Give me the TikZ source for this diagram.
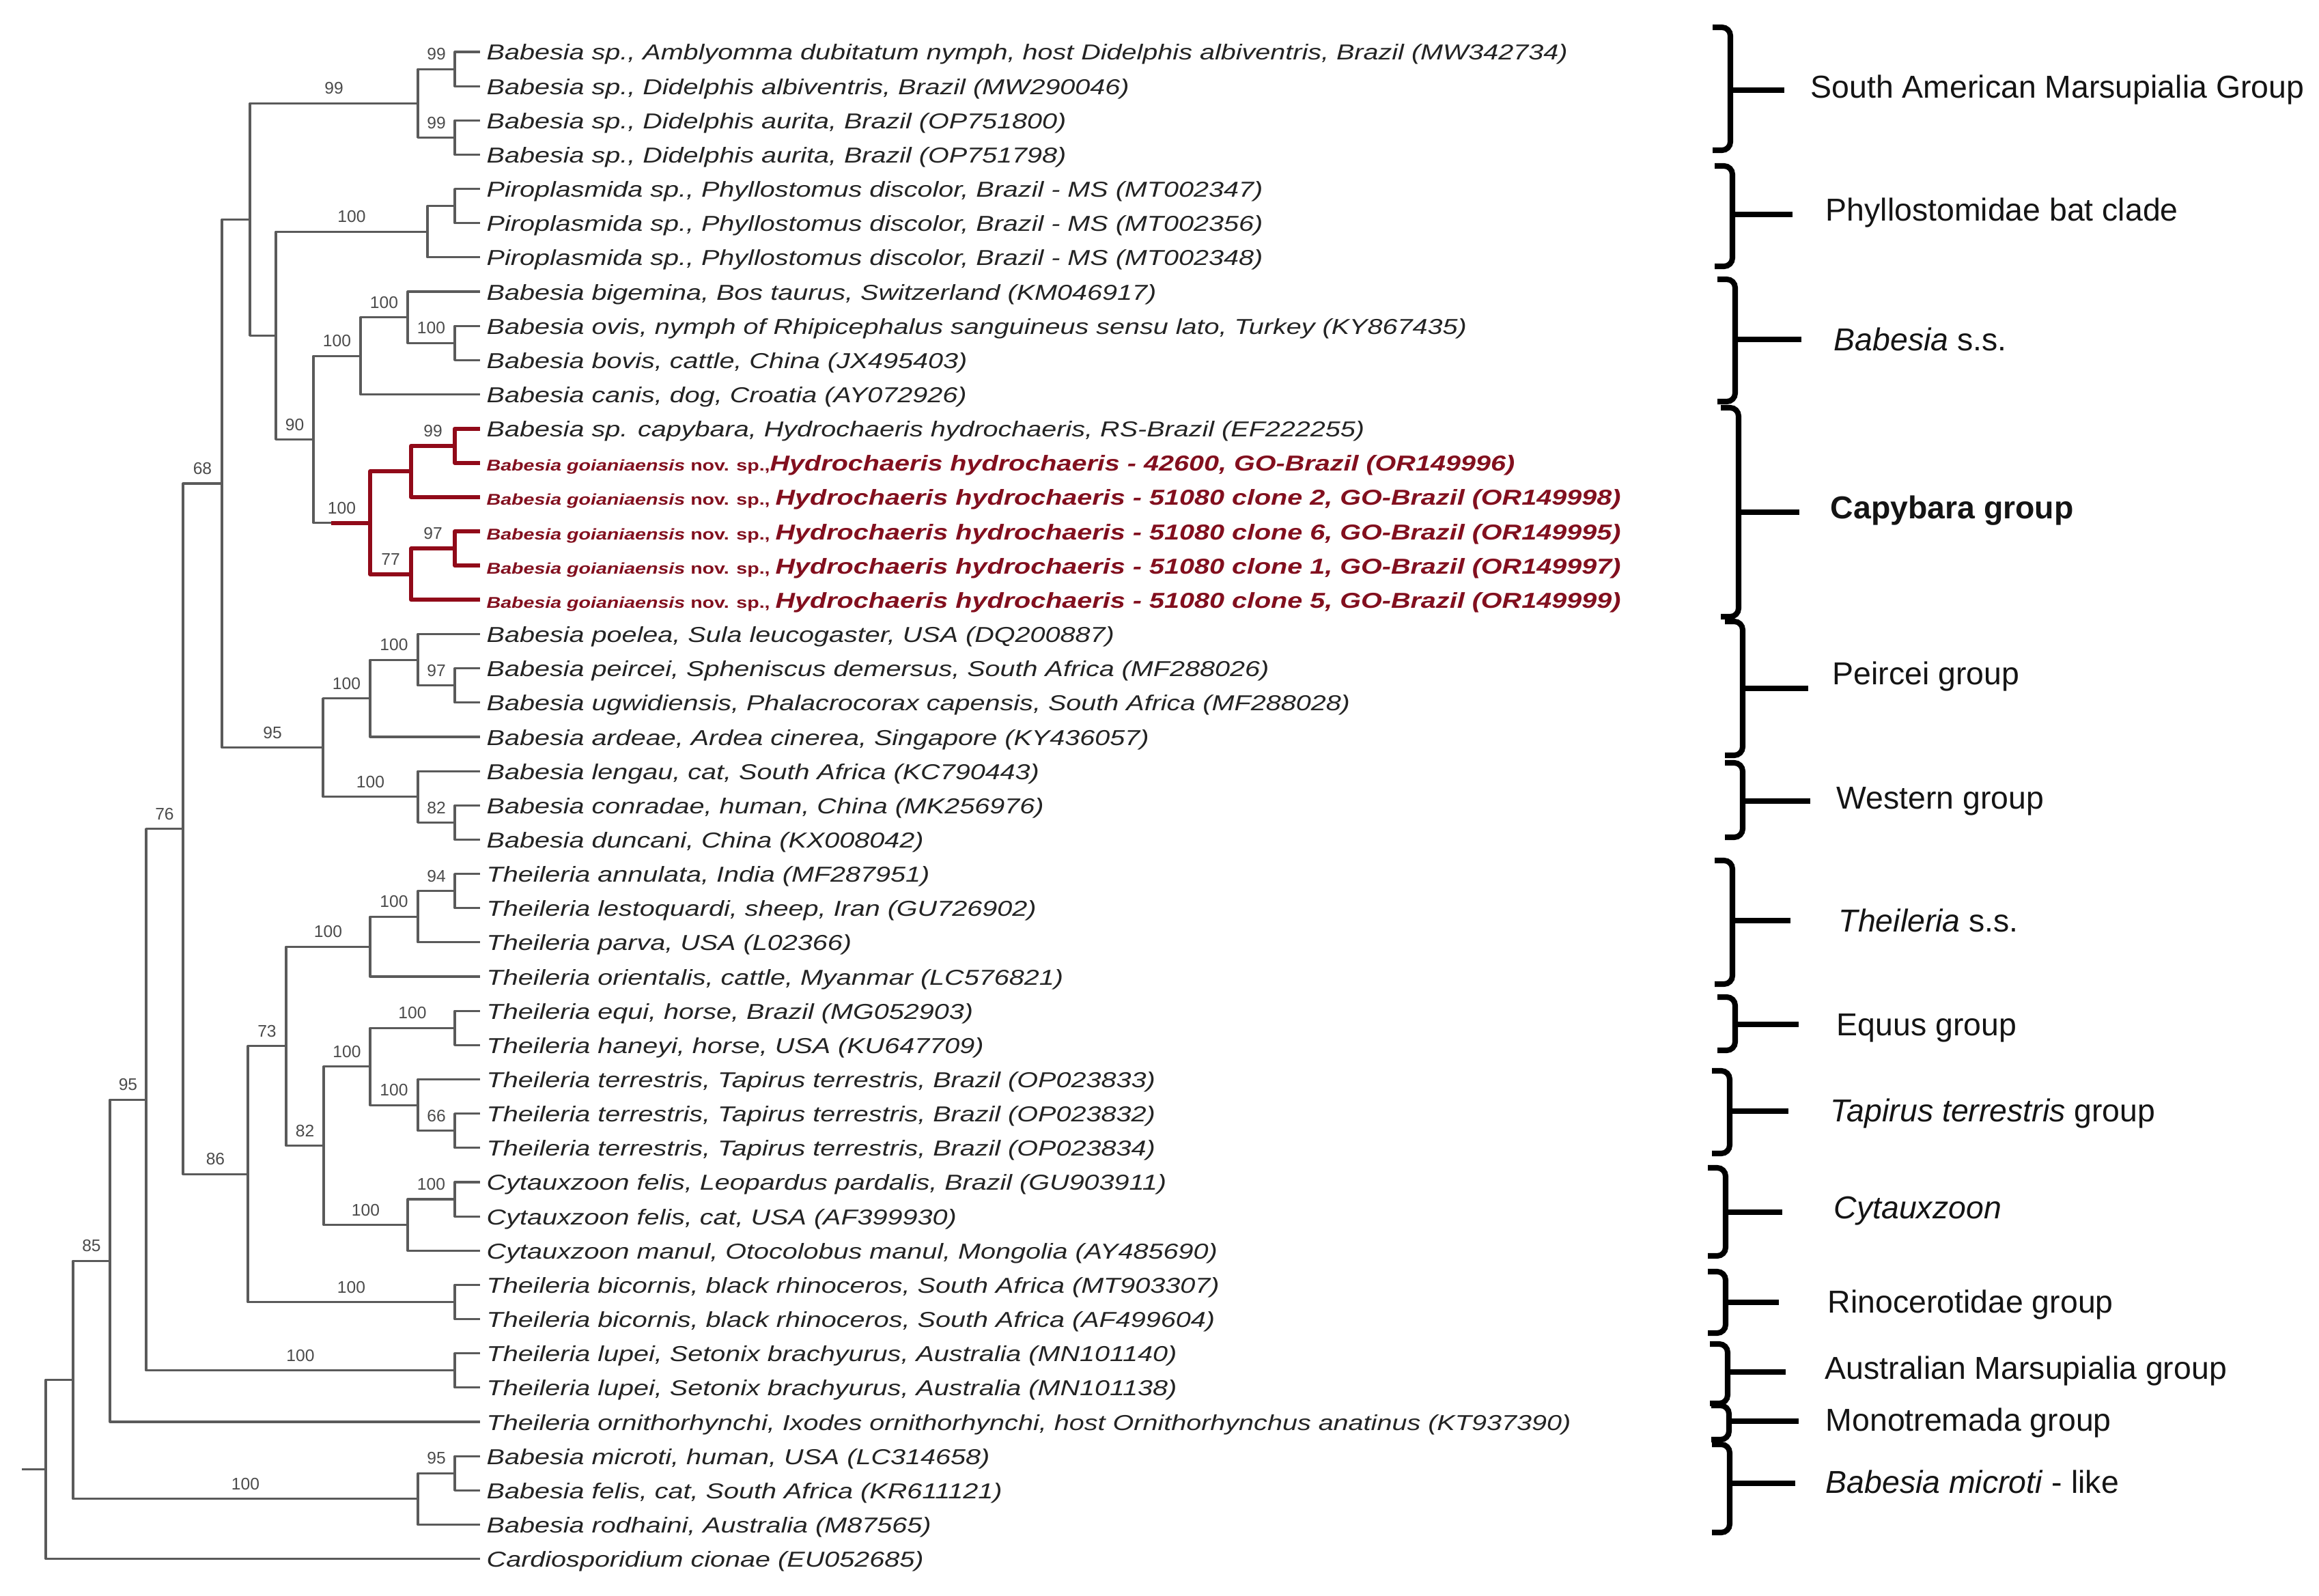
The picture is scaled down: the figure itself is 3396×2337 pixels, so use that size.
\documentclass[tikz,border=0pt]{standalone}
\usepackage{fontspec}
\setmainfont{Liberation Sans}
\usepackage{graphicx}
\usetikzlibrary{calc}
\definecolor{brgray}{RGB}{90,90,90}
\definecolor{txgray}{RGB}{35,35,35}
\definecolor{btgray}{RGB}{75,75,75}
\definecolor{capred}{RGB}{145,10,25}
\definecolor{capredtx}{RGB}{130,15,30}
\definecolor{grptx}{RGB}{20,20,20}
\newcommand{\leaftxt}[1]{\scalebox{1.25}[1]{\fontsize{9}{10}\selectfont\itshape #1}}
\newcommand{\goiatxt}[2]{\scalebox{1.25}[1]{\bfseries\fontsize{6.5}{7}\selectfont\itshape Babesia goianiaensis \upshape nov. sp.,#1\fontsize{9}{10}\selectfont\itshape #2}}
\newcommand{\grpb}[9]{%
  \draw[brk] ({#1-26},#2) -- (#1,#2) -- (#1,#3) -- ({#1-26},#3);
  \coordinate (#8m) at (#1,#4);
  \coordinate (#8e) at (#5,#4);
  \draw[brktick] (#8m) -- (#8e);
  \node[grp] (#8) at (#6,#7) {#9};}
\begin{document}
\begin{tikzpicture}[x=0.01cm,y=-0.01cm,
  branch/.style={draw=brgray, line width=0.9pt, line join=round},
  redbranch/.style={draw=capred, line width=1.7pt, line join=round},
  boot/.style={pos=0.75, anchor=base, yshift=3.8pt, inner sep=0pt, text=btgray, font=\fontsize{7}{8}\selectfont},
  leaf/.style={anchor=base west, inner sep=0pt, text=txgray},
  redleaf/.style={anchor=base west, inner sep=0pt, text=capredtx},
  brk/.style={draw=black, line width=2.3pt, rounded corners=3.5pt},
  brktick/.style={draw=black, line width=2.1pt},
  grp/.style={anchor=west, inner sep=0pt, text=grptx, font=\fontsize{13.2}{15}\selectfont}]
\useasboundingbox[fill=white] (0,0) rectangle (3396,2337);

% leaf tips
\foreach \i in {1,...,45} {\coordinate (t\i) at (703,{76+50.15*(\i-1)});}

% leaf labels
\node[leaf] (l1) at ($(t1)+(9,12)$) {\leaftxt{Babesia sp., Amblyomma dubitatum nymph, host Didelphis albiventris, Brazil (MW342734)}};
\node[leaf] (l2) at ($(t2)+(9,12)$) {\leaftxt{Babesia sp., Didelphis albiventris, Brazil (MW290046)}};
\node[leaf] (l3) at ($(t3)+(9,12)$) {\leaftxt{Babesia sp., Didelphis aurita, Brazil (OP751800)}};
\node[leaf] (l4) at ($(t4)+(9,12)$) {\leaftxt{Babesia sp., Didelphis aurita, Brazil (OP751798)}};
\node[leaf] (l5) at ($(t5)+(9,12)$) {\leaftxt{Piroplasmida sp., Phyllostomus discolor, Brazil - MS (MT002347)}};
\node[leaf] (l6) at ($(t6)+(9,12)$) {\leaftxt{Piroplasmida sp., Phyllostomus discolor, Brazil - MS (MT002356)}};
\node[leaf] (l7) at ($(t7)+(9,12)$) {\leaftxt{Piroplasmida sp., Phyllostomus discolor, Brazil - MS (MT002348)}};
\node[leaf] (l8) at ($(t8)+(9,12)$) {\leaftxt{Babesia bigemina, Bos taurus, Switzerland (KM046917)}};
\node[leaf] (l9) at ($(t9)+(9,12)$) {\leaftxt{Babesia ovis, nymph of Rhipicephalus sanguineus sensu lato, Turkey (KY867435)}};
\node[leaf] (l10) at ($(t10)+(9,12)$) {\leaftxt{Babesia bovis, cattle, China (JX495403)}};
\node[leaf] (l11) at ($(t11)+(9,12)$) {\leaftxt{Babesia canis, dog, Croatia (AY072926)}};
\node[leaf] (l12) at ($(t12)+(9,12)$) {\leaftxt{Babesia sp. capybara, Hydrochaeris hydrochaeris, RS-Brazil (EF222255)}};
\node[redleaf] (l13) at ($(t13)+(9,12)$) {\goiatxt{}{Hydrochaeris hydrochaeris - 42600, GO-Brazil (OR149996)}};
\node[redleaf] (l14) at ($(t14)+(9,12)$) {\goiatxt{\ }{Hydrochaeris hydrochaeris - 51080 clone 2, GO-Brazil (OR149998)}};
\node[redleaf] (l15) at ($(t15)+(9,12)$) {\goiatxt{\ }{Hydrochaeris hydrochaeris - 51080 clone 6, GO-Brazil (OR149995)}};
\node[redleaf] (l16) at ($(t16)+(9,12)$) {\goiatxt{\ }{Hydrochaeris hydrochaeris - 51080 clone 1, GO-Brazil (OR149997)}};
\node[redleaf] (l17) at ($(t17)+(9,12)$) {\goiatxt{\ }{Hydrochaeris hydrochaeris - 51080 clone 5, GO-Brazil (OR149999)}};
\node[leaf] (l18) at ($(t18)+(9,12)$) {\leaftxt{Babesia poelea, Sula leucogaster, USA (DQ200887)}};
\node[leaf] (l19) at ($(t19)+(9,12)$) {\leaftxt{Babesia peircei, Spheniscus demersus, South Africa (MF288026)}};
\node[leaf] (l20) at ($(t20)+(9,12)$) {\leaftxt{Babesia ugwidiensis, Phalacrocorax capensis, South Africa (MF288028)}};
\node[leaf] (l21) at ($(t21)+(9,12)$) {\leaftxt{Babesia ardeae, Ardea cinerea, Singapore (KY436057)}};
\node[leaf] (l22) at ($(t22)+(9,12)$) {\leaftxt{Babesia lengau, cat, South Africa (KC790443)}};
\node[leaf] (l23) at ($(t23)+(9,12)$) {\leaftxt{Babesia conradae, human, China (MK256976)}};
\node[leaf] (l24) at ($(t24)+(9,12)$) {\leaftxt{Babesia duncani, China (KX008042)}};
\node[leaf] (l25) at ($(t25)+(9,12)$) {\leaftxt{Theileria annulata, India (MF287951)}};
\node[leaf] (l26) at ($(t26)+(9,12)$) {\leaftxt{Theileria lestoquardi, sheep, Iran (GU726902)}};
\node[leaf] (l27) at ($(t27)+(9,12)$) {\leaftxt{Theileria parva, USA (L02366)}};
\node[leaf] (l28) at ($(t28)+(9,12)$) {\leaftxt{Theileria orientalis, cattle, Myanmar (LC576821)}};
\node[leaf] (l29) at ($(t29)+(9,12)$) {\leaftxt{Theileria equi, horse, Brazil (MG052903)}};
\node[leaf] (l30) at ($(t30)+(9,12)$) {\leaftxt{Theileria haneyi, horse, USA (KU647709)}};
\node[leaf] (l31) at ($(t31)+(9,12)$) {\leaftxt{Theileria terrestris, Tapirus terrestris, Brazil (OP023833)}};
\node[leaf] (l32) at ($(t32)+(9,12)$) {\leaftxt{Theileria terrestris, Tapirus terrestris, Brazil (OP023832)}};
\node[leaf] (l33) at ($(t33)+(9,12)$) {\leaftxt{Theileria terrestris, Tapirus terrestris, Brazil (OP023834)}};
\node[leaf] (l34) at ($(t34)+(9,12)$) {\leaftxt{Cytauxzoon felis, Leopardus pardalis, Brazil (GU903911)}};
\node[leaf] (l35) at ($(t35)+(9,12)$) {\leaftxt{Cytauxzoon felis, cat, USA (AF399930)}};
\node[leaf] (l36) at ($(t36)+(9,12)$) {\leaftxt{Cytauxzoon manul, Otocolobus manul, Mongolia (AY485690)}};
\node[leaf] (l37) at ($(t37)+(9,12)$) {\leaftxt{Theileria bicornis, black rhinoceros, South Africa (MT903307)}};
\node[leaf] (l38) at ($(t38)+(9,12)$) {\leaftxt{Theileria bicornis, black rhinoceros, South Africa (AF499604)}};
\node[leaf] (l39) at ($(t39)+(9,12)$) {\leaftxt{Theileria lupei, Setonix brachyurus, Australia (MN101140)}};
\node[leaf] (l40) at ($(t40)+(9,12)$) {\leaftxt{Theileria lupei, Setonix brachyurus, Australia (MN101138)}};
\node[leaf] (l41) at ($(t41)+(9,12)$) {\leaftxt{Theileria ornithorhynchi, Ixodes ornithorhynchi, host Ornithorhynchus anatinus (KT937390)}};
\node[leaf] (l42) at ($(t42)+(9,12)$) {\leaftxt{Babesia microti, human, USA (LC314658)}};
\node[leaf] (l43) at ($(t43)+(9,12)$) {\leaftxt{Babesia felis, cat, South Africa (KR611121)}};
\node[leaf] (l44) at ($(t44)+(9,12)$) {\leaftxt{Babesia rodhaini, Australia (M87565)}};
\node[leaf] (l45) at ($(t45)+(9,12)$) {\leaftxt{Cardiosporidium cionae (EU052685)}};

% internal nodes
\coordinate (p1) at (666,101.1);
\coordinate (p2) at (666,201.4);
\coordinate (sam) at (612,151.3);
\coordinate (p5) at (666,301.7);
\coordinate (phy) at (626,339.3);
\coordinate (p9) at (666,502.3);
\coordinate (z100) at (597,464.7);
\coordinate (bss) at (528,521.1);
\coordinate (p12) at (666,652.8);
\coordinate (aa) at (602,690.4);
\coordinate (p15) at (666,803.2);
\coordinate (bb) at (602,840.8);
\coordinate (capy) at (542,765.6);
\coordinate (capyin) at (485,765.6);
\coordinate (y90) at (459,643.4);
\coordinate (xn) at (404,491.4);
\coordinate (vn) at (366,321.4);
\coordinate (p19) at (666,1003.8);
\coordinate (pp) at (612,966.2);
\coordinate (pei) at (542,1022.6);
\coordinate (p23) at (666,1204.4);
\coordinate (wes) at (612,1166.8);
\coordinate (w95) at (473,1094.7);
\coordinate (n68) at (325,708.0);
\coordinate (p25) at (666,1304.7);
\coordinate (n100a) at (612,1342.3);
\coordinate (th) at (542,1386.2);
\coordinate (equ) at (666,1505.3);
\coordinate (p32) at (666,1655.7);
\coordinate (tap) at (612,1618.1);
\coordinate (eqt) at (542,1561.7);
\coordinate (p34) at (666,1756.0);
\coordinate (cyt) at (597,1793.7);
\coordinate (w82) at (474,1677.7);
\coordinate (v73) at (419,1531.9);
\coordinate (bic) at (666,1906.5);
\coordinate (u86) at (363,1719.2);
\coordinate (s76) at (268,1213.6);
\coordinate (lup) at (666,2006.8);
\coordinate (r95) at (214,1610.2);
\coordinate (q85) at (161,1846.1);
\coordinate (p42) at (666,2157.3);
\coordinate (mic) at (612,2194.9);
\coordinate (pn) at (107,2020.5);
\coordinate (root) at (67,2151.6);
\coordinate (stub) at (32,2151.6);

% gray branches
\draw[branch] (p1) |- (t1); \draw[branch] (p1) |- (t2);
\draw[branch] (p2) |- (t3); \draw[branch] (p2) |- (t4);
\draw[branch] (sam) |- (p1) node[boot]{99};
\draw[branch] (sam) |- (p2) node[boot]{99};
\draw[branch] (vn) |- (sam) node[boot]{99};
\draw[branch] (vn) |- (xn);
\draw[branch] (p5) |- (t5); \draw[branch] (p5) |- (t6);
\draw[branch] (phy) |- (p5); \draw[branch] (phy) |- (t7);
\draw[branch] (xn) |- (phy) node[boot]{100};
\draw[branch] (xn) |- (y90) node[boot]{90};
\draw[branch] (p9) |- (t9); \draw[branch] (p9) |- (t10);
\draw[branch] (z100) |- (t8);
\draw[branch] (z100) |- (p9) node[boot]{100};
\draw[branch] (bss) |- (z100) node[boot]{100};
\draw[branch] (bss) |- (t11);
\draw[branch] (y90) |- (bss) node[boot]{100};
\draw[branch] (y90) |- (capy) node[boot]{100};
\draw[branch] (n68) |- (vn);
\draw[branch] (n68) |- (w95) node[boot]{95};
\draw[branch] (p19) |- (t19); \draw[branch] (p19) |- (t20);
\draw[branch] (pp) |- (t18);
\draw[branch] (pp) |- (p19) node[boot]{97};
\draw[branch] (pei) |- (pp) node[boot]{100};
\draw[branch] (pei) |- (t21);
\draw[branch] (p23) |- (t23); \draw[branch] (p23) |- (t24);
\draw[branch] (wes) |- (t22);
\draw[branch] (wes) |- (p23) node[boot]{82};
\draw[branch] (w95) |- (pei) node[boot]{100};
\draw[branch] (w95) |- (wes) node[boot]{100};
\draw[branch] (p25) |- (t25); \draw[branch] (p25) |- (t26);
\draw[branch] (n100a) |- (p25) node[boot]{94};
\draw[branch] (n100a) |- (t27);
\draw[branch] (th) |- (n100a) node[boot]{100};
\draw[branch] (th) |- (t28);
\draw[branch] (equ) |- (t29); \draw[branch] (equ) |- (t30);
\draw[branch] (p32) |- (t32); \draw[branch] (p32) |- (t33);
\draw[branch] (tap) |- (t31);
\draw[branch] (tap) |- (p32) node[boot]{66};
\draw[branch] (eqt) |- (equ) node[boot]{100};
\draw[branch] (eqt) |- (tap) node[boot]{100};
\draw[branch] (p34) |- (t34); \draw[branch] (p34) |- (t35);
\draw[branch] (cyt) |- (p34) node[boot]{100};
\draw[branch] (cyt) |- (t36);
\draw[branch] (w82) |- (eqt) node[boot]{100};
\draw[branch] (w82) |- (cyt) node[boot]{100};
\draw[branch] (v73) |- (th) node[boot]{100};
\draw[branch] (v73) |- (w82) node[boot]{82};
\draw[branch] (bic) |- (t37); \draw[branch] (bic) |- (t38);
\draw[branch] (u86) |- (v73) node[boot]{73};
\draw[branch] (u86) |- (bic) node[boot]{100};
\draw[branch] (s76) |- (n68) node[boot]{68};
\draw[branch] (s76) |- (u86) node[boot]{86};
\draw[branch] (lup) |- (t39); \draw[branch] (lup) |- (t40);
\draw[branch] (r95) |- (s76) node[boot]{76};
\draw[branch] (r95) |- (lup) node[boot]{100};
\draw[branch] (q85) |- (r95) node[boot]{95};
\draw[branch] (q85) |- (t41);
\draw[branch] (p42) |- (t42); \draw[branch] (p42) |- (t43);
\draw[branch] (mic) |- (p42) node[boot]{95};
\draw[branch] (mic) |- (t44);
\draw[branch] (pn) |- (q85) node[boot]{85};
\draw[branch] (pn) |- (mic) node[boot]{100};
\draw[branch] (root) |- (pn);
\draw[branch] (root) |- (t45);
\draw[branch] (stub) -- (root);

% red capybara clade
\draw[redbranch] (capyin) -- (capy);
\draw[redbranch] (p12) |- (t12); \draw[redbranch] (p12) |- (t13);
\draw[redbranch] (aa) |- (p12) node[boot]{99};
\draw[redbranch] (aa) |- (t14);
\draw[redbranch] (p15) |- (t15); \draw[redbranch] (p15) |- (t16);
\draw[redbranch] (bb) |- (p15) node[boot]{97};
\draw[redbranch] (bb) |- (t17);
\draw[redbranch] (capy) |- (aa);
\draw[redbranch] (capy) |- (bb) node[boot]{77};

% group brackets
\grpb{2534}{40}{220}{132}{2613}{2651}{132}{g1}{South American Marsupialia Group}
\grpb{2537}{243}{390}{314}{2625}{2673}{312}{g2}{Phyllostomidae bat clade}
\grpb{2541}{409}{588}{497}{2638}{2685}{497}{g3}{\textit{Babesia} s.s.}
\grpb{2546}{597}{903}{750}{2635}{2680}{748}{g4}{\textbf{Capybara group}}
\grpb{2552}{910}{1106}{1008}{2648}{2683}{990}{g5}{Peircei group}
\grpb{2552}{1117}{1226}{1173}{2651}{2689}{1173}{g6}{Western group}
\grpb{2537}{1260}{1441}{1348}{2622}{2692}{1348}{g7}{\textit{Theileria} s.s.}
\grpb{2541}{1460}{1538}{1500}{2634}{2689}{1505}{g8}{Equus group}
\grpb{2533}{1568}{1689}{1627}{2619}{2680}{1630}{g9}{\textit{Tapirus terrestris} group}
\grpb{2527}{1710}{1839}{1775}{2610}{2685}{1773}{g10}{\textit{Cytauxzoon}}
\grpb{2527}{1862}{1952}{1907}{2605}{2676}{1910}{g11}{Rinocerotidae group}
\grpb{2530}{1968}{2055}{2009}{2615}{2672}{2007}{g12}{Australian Marsupialia group}
\grpb{2532}{2058}{2108}{2081}{2634}{2673}{2083}{g13}{Monotremada group}
\grpb{2533}{2115}{2244}{2172}{2629}{2673}{2170}{g14}{\textit{Babesia microti} - like}
\end{tikzpicture}
\end{document}
